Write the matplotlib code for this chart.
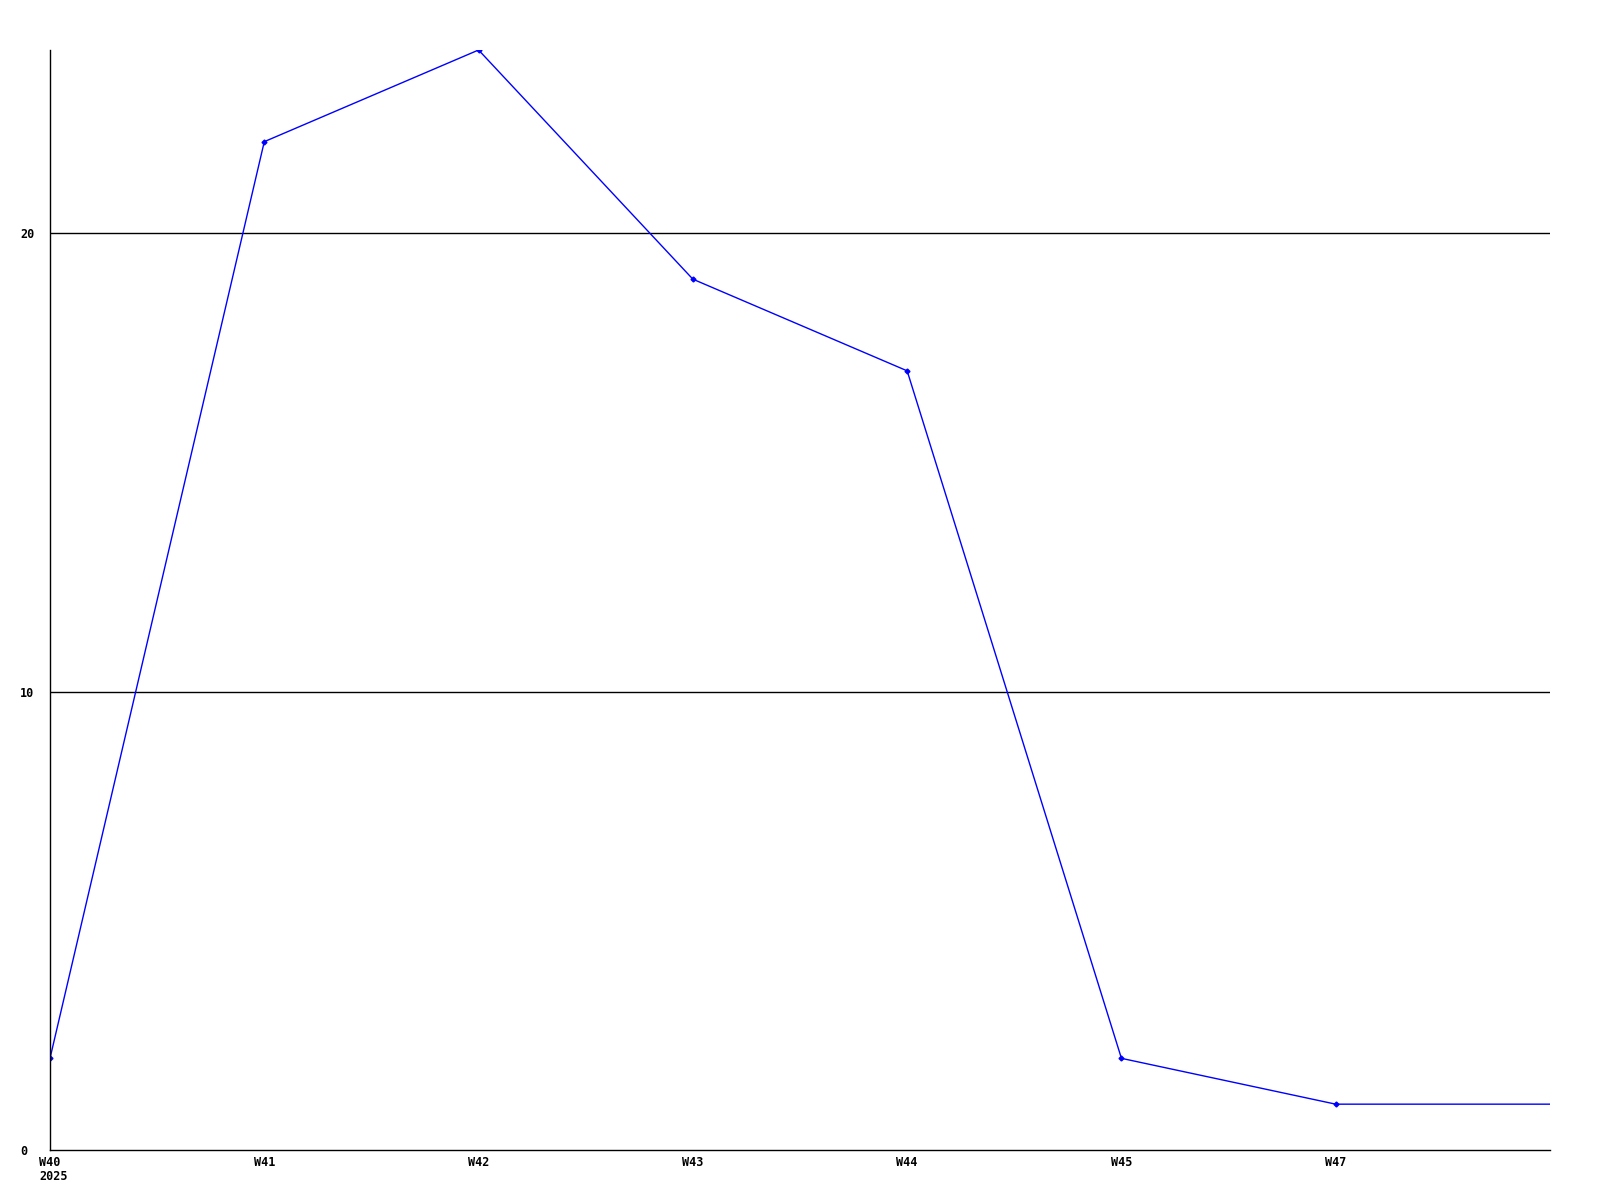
import matplotlib
matplotlib.use("Agg")
import matplotlib.pyplot as plt

weeks = ["W40", "W41", "W42", "W43", "W44", "W45", "W47"]
year_label = "2025"
values = [2, 22, 24, 19, 17, 2, 1]
tail_value = 1  # line continues flat to the right edge
y_ticks = [0, 10, 20]

fig = plt.figure(figsize=(16, 12), dpi=100)
ax = fig.add_axes([50/1600, 1 - 1150/1200, 1500/1600, 1100/1200])

xs = list(range(len(weeks)))
ax.plot(xs + [len(weeks)], values + [tail_value], color="#0000FF", lw=1.0)
ax.plot(xs, values, linestyle="none", marker="D", markersize=2.5, color="#0000FF")

ax.set_xlim(0, len(weeks))
ax.set_ylim(0, 24)

for y in y_ticks[1:]:
    ax.axhline(y, color="black", lw=1.0, zorder=0)

font = dict(family="DejaVu Sans Mono", weight="bold", size=8.5)
ax.set_xticks(xs)
ax.set_xticklabels(weeks, **font)
ax.set_yticks(y_ticks)
ax.set_yticklabels([str(v) for v in y_ticks], **font)
ax.tick_params(axis="x", length=0, pad=4.5)
ax.tick_params(axis="y", length=0, pad=21.6)
for lab in ax.get_yticklabels():
    lab.set_horizontalalignment("left")

ax.annotate(year_label, xy=(0, 0), xycoords=("data", "axes fraction"),
            xytext=(-7.5, -14.5), textcoords="offset points",
            ha="left", va="top", annotation_clip=False, **font)

for s in ["top", "right"]:
    ax.spines[s].set_visible(False)
for s in ["left", "bottom"]:
    ax.spines[s].set_linewidth(1.0)
    ax.spines[s].set_color("black")

fig.savefig("out.png", dpi=100, facecolor="white")
